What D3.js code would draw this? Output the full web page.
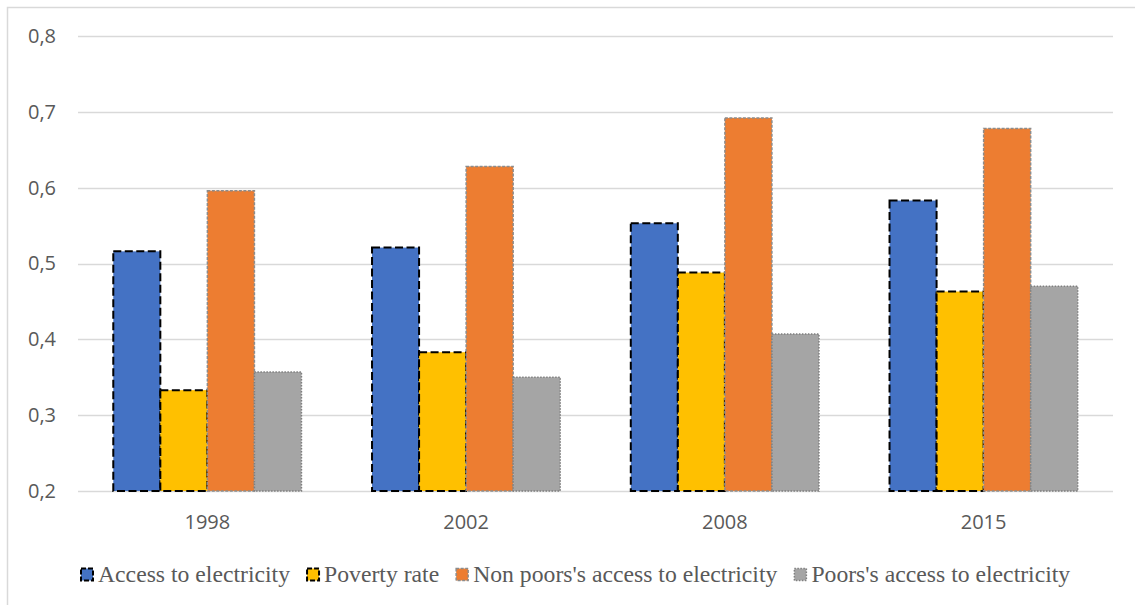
<!DOCTYPE html>
<html>
<head>
<meta charset="utf-8">
<script src="https://cdn.jsdelivr.net/npm/d3@7"></script>
<style>
  html, body { margin: 0; padding: 0; background: #fff; }
</style>
</head>
<body>
<div id="chart"></div>
<script>
// data
const years = ['1998', '2002', '2008', '2015'];
const seriesNames = [
  'Access to electricity',
  'Poverty rate',
  "Non poors's access to electricity",
  "Poors's access to electricity"
];
const accessValues = [0.516, 0.521, 0.553, 0.583];
const povertyValues = [0.333, 0.383, 0.488, 0.463];
const nonPoorValues = [0.596, 0.628, 0.692, 0.678];
const poorValues = [0.357, 0.350, 0.407, 0.470];
const yTicks = [0.2, 0.3, 0.4, 0.5, 0.6, 0.7, 0.8];

const width = 1135;
const height = 605;
const margin = { top: 36, right: 22, bottom: 114, left: 78 };

// look of each series (Excel style borders)
const styles = [
  { fill: '#4472c4', stroke: '#000', dash: '8,3.5', sw: 2 },
  { fill: '#ffc000', stroke: '#000', dash: '8,3.5', sw: 2 },
  { fill: '#ed7d31', stroke: '#8c8c8c', dash: '3,1.5', sw: 1.5 },
  { fill: '#a5a5a5', stroke: '#7f7f7f', dash: '1.5,1.5', sw: 1.5 }
];

const allValues = [accessValues, povertyValues, nonPoorValues, poorValues];
const data = years.map((yr, i) => ({
  year: yr,
  values: seriesNames.map((s, k) => ({ key: k, value: allValues[k][i] }))
}));

const svg = d3.select('#chart').append('svg')
  .attr('width', width)
  .attr('height', height);

// chart area border
svg.append('rect')
  .attr('x', 7.5)
  .attr('y', 7.5)
  .attr('width', width + 20)
  .attr('height', height + 20)
  .attr('fill', 'none')
  .attr('stroke', '#d9d9d9')
  .attr('stroke-width', 1.5);

const plotW = width - margin.left - margin.right;
const plotH = height - margin.top - margin.bottom;

const g = svg.append('g')
  .attr('transform', `translate(${margin.left},${margin.top})`);

const x0 = d3.scaleBand()
  .domain(years)
  .range([0, plotW])
  .padding(0);

// gap width 150% -> outer padding of 0.75 bar on each side
const x1 = d3.scaleBand()
  .domain(d3.range(seriesNames.length))
  .range([0, x0.bandwidth()])
  .paddingInner(0)
  .paddingOuter(0.75);

const y = d3.scaleLinear()
  .domain([0.2, 0.8])
  .range([plotH, 0]);

const fmt = v => d3.format('.1f')(v).replace('.', ',');

// gridlines
g.append('g')
  .selectAll('line')
  .data(yTicks)
  .join('line')
  .attr('x1', 0)
  .attr('x2', plotW)
  .attr('y1', d => Math.round(y(d)) + 0.5)
  .attr('y2', d => Math.round(y(d)) + 0.5)
  .attr('stroke', '#d9d9d9')
  .attr('stroke-width', 1.5);

// y axis labels
const yAxis = g.append('g')
  .call(d3.axisLeft(y).tickValues(yTicks).tickFormat(fmt).tickSize(0).tickPadding(22));
yAxis.select('.domain').remove();
yAxis.attr('font-size', null).attr('font-family', null);
yAxis.selectAll('text')
  .attr('font-family', 'Open Sans, sans-serif')
  .attr('font-size', 20)
  .attr('fill', '#595959');

// x axis labels
const xAxis = g.append('g')
  .attr('transform', `translate(0,${plotH})`)
  .call(d3.axisBottom(x0).tickSize(0).tickPadding(24));
xAxis.select('.domain').remove();
xAxis.attr('font-size', null).attr('font-family', null);
xAxis.selectAll('text')
  .attr('font-family', 'Open Sans, sans-serif')
  .attr('font-size', 20)
  .attr('fill', '#595959');

// bars
const groups = g.selectAll('.grp')
  .data(data)
  .join('g')
  .attr('class', 'grp')
  .attr('transform', d => `translate(${x0(d.year)},0)`);

groups.selectAll('rect')
  .data(d => d.values)
  .join('rect')
  .attr('x', d => x1(d.key))
  .attr('y', d => y(d.value))
  .attr('width', x1.bandwidth())
  .attr('height', d => y(0.2) - y(d.value))
  .attr('fill', d => styles[d.key].fill)
  .attr('stroke', d => styles[d.key].stroke)
  .attr('stroke-width', d => styles[d.key].sw)
  .attr('stroke-dasharray', d => styles[d.key].dash);

// legend, items laid out one after another
const legend = svg.append('g')
  .attr('transform', 'translate(0,574.5)');

let cursor = 81;
seriesNames.forEach((name, i) => {
  const item = legend.append('g')
    .attr('transform', `translate(${cursor},0)`);

  item.append('rect')
    .attr('x', 0)
    .attr('y', -6)
    .attr('width', 12)
    .attr('height', 12)
    .attr('fill', styles[i].fill)
    .attr('stroke', styles[i].stroke)
    .attr('stroke-width', styles[i].sw)
    .attr('stroke-dasharray', i < 2 ? '5,2' : styles[i].dash);

  const txt = item.append('text')
    .attr('x', 17)
    .attr('y', 7.5)
    .attr('font-family', 'Liberation Serif')
    .attr('font-size', 23.7)
    .attr('fill', '#595959')
    .text(name);

  cursor += 17 + txt.node().getComputedTextLength() + 17;
});
</script>
</body>
</html>
